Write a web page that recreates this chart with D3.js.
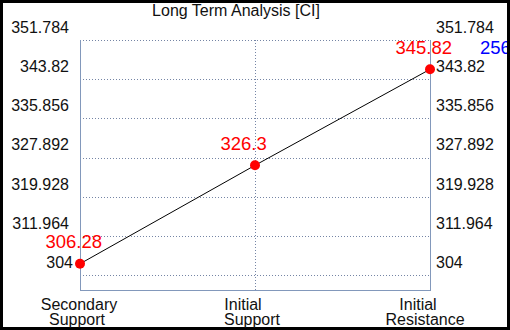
<!DOCTYPE html>
<html>
<head>
<meta charset="utf-8">
<script src="https://cdn.jsdelivr.net/npm/d3@7"></script>
<style>
html,body{margin:0;padding:0;background:#fff;}
svg{display:block;font-family:"Liberation Sans",Arial,sans-serif;}
</style>
</head>
<body>
<svg id="chart" width="510" height="330"></svg>
<script>
const title = "Long Term Analysis [CI]";
const categories = ["Secondary Support", "Initial Support", "Initial Resistance"];
const categoryLines = [["Secondary", "Support"], ["Initial", "Support"], ["Initial", "Resistance"]];
const values = [306.28, 326.3, 345.82];
const valueLabels = ["306.28", "326.3", "345.82"];
const yTicks = [304, 311.964, 319.928, 327.892, 335.856, 343.82, 351.784];
const yTickLabels = ["304", "311.964", "319.928", "327.892", "335.856", "343.82", "351.784"];
const extraLabel = "256";
const yDomain = [300.95, 351.784];

const W = 510, H = 330;
const plot = {left: 80, right: 430, top: 40, bottom: 290};
const svg = d3.select("#chart");

svg.append("rect").attr("x", 0).attr("y", 0).attr("width", W).attr("height", H).attr("fill", "#000");
svg.append("rect").attr("x", 3).attr("y", 3).attr("width", W - 6).attr("height", H - 6).attr("fill", "#fff");

const x = d3.scalePoint().domain(categories).range([plot.left, plot.right]);
const y = d3.scaleLinear().domain(yDomain).range([plot.bottom, plot.top]);

const gridColor = "#7585a5";
const axisColor = "#8298bb";

svg.append("g").selectAll("line").data(yTicks).join("line")
  .attr("x1", plot.left).attr("x2", plot.right)
  .attr("y1", d => Math.round(y(d)) + 0.5).attr("y2", d => Math.round(y(d)) + 0.5)
  .attr("stroke", gridColor).attr("stroke-width", 1).attr("stroke-dasharray", "1,2");
svg.append("g").selectAll("line").data(categories.slice(1, -1)).join("line")
  .attr("x1", d => Math.round(x(d)) + 0.5).attr("x2", d => Math.round(x(d)) + 0.5)
  .attr("y1", plot.top).attr("y2", plot.bottom)
  .attr("stroke", gridColor).attr("stroke-width", 1).attr("stroke-dasharray", "1,2");
svg.append("line").attr("x1", plot.left + 0.5).attr("x2", plot.left + 0.5).attr("y1", plot.top).attr("y2", plot.bottom + 0.5).attr("stroke", axisColor);
svg.append("line").attr("x1", plot.right + 0.5).attr("x2", plot.right + 0.5).attr("y1", plot.top).attr("y2", plot.bottom + 0.5).attr("stroke", axisColor);
svg.append("line").attr("x1", plot.left).attr("x2", plot.right + 1).attr("y1", plot.bottom + 0.5).attr("y2", plot.bottom + 0.5).attr("stroke", axisColor);

const fmt = d => yTickLabels[yTicks.indexOf(d)];
const leftAxis = svg.append("g").attr("transform", `translate(${plot.left},0)`)
  .call(d3.axisLeft(y).tickValues(yTicks).tickFormat(fmt).tickSize(0).tickPadding(11));
const rightAxis = svg.append("g").attr("transform", `translate(${plot.right},0)`)
  .call(d3.axisRight(y).tickValues(yTicks).tickFormat(fmt).tickSize(0).tickPadding(6));
[leftAxis, rightAxis].forEach(g => {
  g.select(".domain").remove();
  g.selectAll("text").attr("font-size", 16).attr("font-family", "Liberation Sans, Arial, sans-serif")
    .attr("fill", "#111").attr("dy", "-0.47em");
});
leftAxis.selectAll("text").filter(d => d === yTicks[0]).attr("dx", "4");

const lineOffsets = [[-1, -3], [-12, -3], [-12, -5]];
const xl = svg.append("g");
categories.forEach((c, i) => {
  categoryLines[i].forEach((t, j) => {
    xl.append("text").attr("x", x(c) + lineOffsets[i][j]).attr("y", 310 + j * 14.8)
      .attr("text-anchor", "middle").attr("font-size", 16).attr("fill", "#111").text(t);
  });
});

svg.append("text").attr("x", 236).attr("y", 15.5).attr("text-anchor", "middle")
  .attr("font-size", 16).attr("fill", "#111").text(title);

const data = categories.map((c, i) => ({c, v: values[i], label: valueLabels[i]}));
svg.append("path").datum(data)
  .attr("d", d3.line().x(d => x(d.c)).y(d => y(d.v)))
  .attr("fill", "none").attr("stroke", "#000").attr("stroke-width", 1);

svg.append("g").selectAll("circle").data(data).join("circle")
  .attr("cx", d => x(d.c)).attr("cy", d => y(d.v)).attr("r", 5).attr("fill", "#ff0000");

svg.append("g").selectAll("text").data(data).join("text")
  .attr("x", d => x(d.c) - 34.5).attr("y", d => y(d.v) - 15.5)
  .attr("font-size", 18.5).attr("fill", "#ff0000").text(d => d.label);

svg.append("text").attr("x", 480).attr("y", 54).attr("font-size", 18.5).attr("fill", "#0000ff").text(extraLabel);

svg.append("rect").attr("x", W - 3).attr("y", 0).attr("width", 3).attr("height", H).attr("fill", "#000");
</script>
</body>
</html>
